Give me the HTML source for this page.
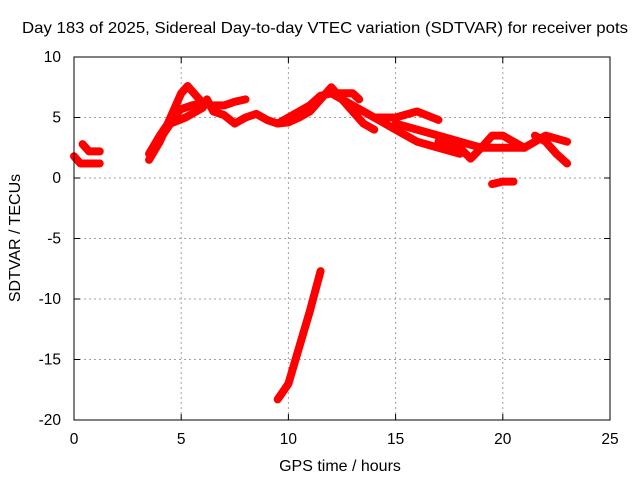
<!DOCTYPE html>
<html><head><meta charset="utf-8"><style>
html,body{margin:0;padding:0;background:#fff;}
svg{display:block;font-family:"Liberation Sans",sans-serif;}
</style></head><body>
<svg id="chart" width="640" height="480">
<rect width="640" height="480" fill="#fff"/>
<text x="22" y="33" font-size="16" textLength="606" lengthAdjust="spacingAndGlyphs">Day 183 of 2025, Sidereal Day-to-day VTEC variation (SDTVAR) for receiver pots</text>
<g id="grid"></g>
<g id="series"></g>
<rect x="74" y="57" width="536" height="363" fill="none" stroke="#000" stroke-width="1"/>
<g id="ticks" font-size="15.5"></g>
<text x="340" y="471" font-size="16" text-anchor="middle">GPS time / hours</text>
<text transform="translate(20,238) rotate(-90)" font-size="16" text-anchor="middle">SDTVAR / TECUs</text>
</svg>
<script>
const xTicks=[0,5,10,15,20,25];
const yTicks=[10,5,0,-5,-10,-15,-20];
const trackA1=[[0,1.8],[0.3,1.2],[0.6,1.2],[1.2,1.2]];
const trackA2=[[0.4,2.8],[0.7,2.2],[1.2,2.2]];
const track1=[[3.5,1.5],[4,3],[4.5,5],[5,7],[5.3,7.6],[5.7,6.8],[6.1,6]];
const track2=[[3.5,2],[4,3.5],[4.5,4.8],[5,5.7],[5.5,6],[6,6.2]];
const track3=[[4,3.2],[4.5,4.5],[5.2,5],[6,5.8]];
const track4=[[6.2,6.5],[6.5,5.5],[7,5.2],[7.5,4.5],[8,5],[8.5,5.3],[9,4.8],[9.5,4.5],[10,4.6],[10.5,5],[11,5.5],[11.5,6.5],[12,7.5],[12.5,6.5],[13,5.5],[13.5,4.5],[14,4]];
const track5=[[6.5,6],[7,6],[7.5,6.3],[8,6.5]];
const track6=[[9.5,4.5],[10,5],[10.5,5.5],[11,6],[11.5,6.8],[12,7],[12.5,7],[13,7],[13.3,6.5]];
const track7=[[12,7],[13,6],[14,5],[15,4],[16,3],[17,2.5],[18,2]];
const track8=[[14,5],[15,5],[16,5.5],[17,4.8]];
const track9=[[15,4.5],[16,4],[17,3.5],[18,3],[19,2.5],[20,2.5],[21,2.5],[22,3.5],[23,3]];
const track10=[[17,3],[18,2.5],[18.5,1.6],[19,2.5],[19.5,3.5],[20,3.5],[21,2.5]];
const track11=[[21.5,3.5],[22,3],[22.5,2],[23,1.2]];
const track12=[[19.5,-0.5],[20,-0.3],[20.5,-0.3]];
const track13=[[9.5,-18.3],[10,-17],[10.5,-14],[11,-11],[11.5,-7.7]];
const tracks=[trackA1,trackA2,track1,track2,track3,track4,track5,track6,track7,track8,track9,track10,track11,track12,track13];
const NS="http://www.w3.org/2000/svg";
const X=h=>74+h*536/25, Y=v=>178-v*363/30;
const grid=document.getElementById('grid'),ticks=document.getElementById('ticks'),ser=document.getElementById('series');
function mk(t,a){const e=document.createElementNS(NS,t);for(const k in a)e.setAttribute(k,a[k]);return e;}
xTicks.forEach(t=>{
 if(t>0&&t<25){const l=mk('line',{x1:X(t),x2:X(t),y1:57,y2:420,stroke:'#a0a0a0','stroke-dasharray':'2,3'});
 
 grid.appendChild(l);}
 const tm=mk('path',{d:`M${X(t)},420v-6M${X(t)},57v6`,stroke:'#000'});
 
 ticks.appendChild(tm);
 const tx=mk('text',{x:X(t),y:444,'text-anchor':'middle'});tx.textContent=t;
 
 ticks.appendChild(tx);
});
yTicks.forEach(t=>{
 if(t<10&&t>-20){const l=mk('line',{x1:74,x2:610,y1:Y(t),y2:Y(t),stroke:'#a0a0a0','stroke-dasharray':'2,3'});
 
 grid.appendChild(l);}
 const tm=mk('path',{d:`M74,${Y(t)}h6M610,${Y(t)}h-6`,stroke:'#000'});
 
 ticks.appendChild(tm);
 const tx=mk('text',{x:61,y:Y(t)+5,'text-anchor':'end'});tx.textContent=t;
 
 ticks.appendChild(tx);
});
tracks.forEach(tr=>{
 const p=mk('polyline',{points:tr.map(d=>X(d[0])+','+Y(d[1])).join(' '),fill:'none',stroke:'#ff0000','stroke-width':8,'stroke-linejoin':'round','stroke-linecap':'round'});
 
 
 ser.appendChild(p);
});
</script>
</body></html>
